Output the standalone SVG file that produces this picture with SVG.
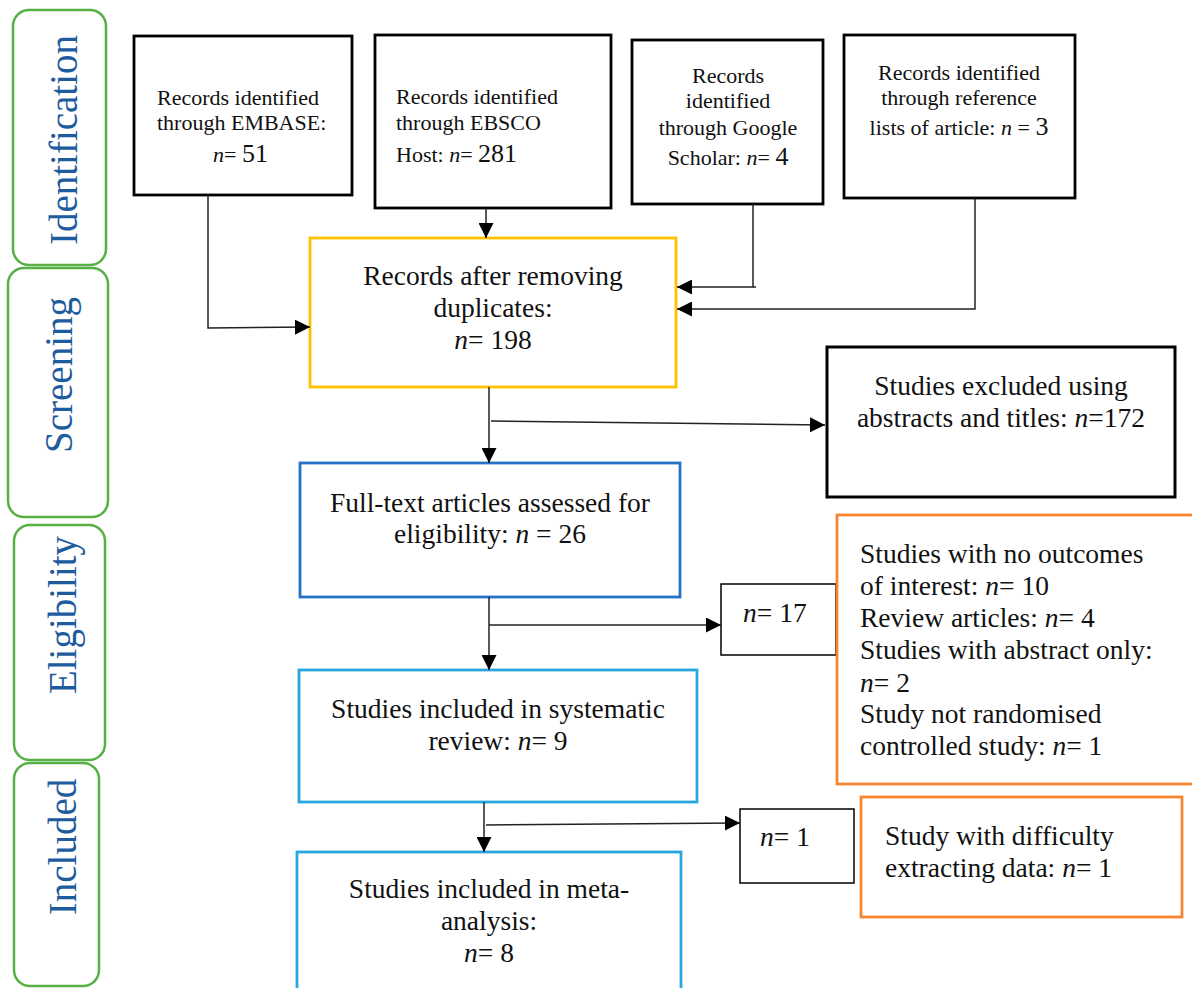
<svg xmlns="http://www.w3.org/2000/svg" width="1192" height="988" viewBox="0 0 1192 988">
<defs>
<marker id="ah" viewBox="0 0 10 10" refX="10" refY="5" markerWidth="15" markerHeight="15" markerUnits="userSpaceOnUse" orient="auto">
<path d="M0,0 L10,5 L0,10 z" fill="#000"/>
</marker>
<style>
.phase{fill:#fff;stroke:#56B045;stroke-width:2.5}
.ptxt{font-family:"Liberation Serif","Times New Roman",serif;font-size:39px;fill:#1F5C9E;text-anchor:middle}
.bk{fill:#fff;stroke:#000;stroke-width:2.8}
.thin{fill:#fff;stroke:#000;stroke-width:1.5}
.yel{fill:#fff;stroke:#FFC000;stroke-width:2.8}
.blu{fill:#fff;stroke:#2473C6;stroke-width:2.8}
.lbl{fill:#fff;stroke:#29A6DF;stroke-width:2.8}
.org{fill:#fff;stroke:#F7862E;stroke-width:2.8}
.s{font-family:"Liberation Serif","Times New Roman",serif;font-size:22px;fill:#111}
.m{font-family:"Liberation Serif","Times New Roman",serif;font-size:27.5px;fill:#111}
.c{text-anchor:middle}
.i{font-style:italic}
.big{font-size:26px}
.con{fill:none;stroke:#222;stroke-width:1.5}
</style>
</defs>

<g id="phase-identification">
<rect class="phase" x="13" y="10" width="93" height="255" rx="16"/>
<text class="ptxt" x="77" y="140" transform="rotate(-90 77 140)">Identification</text>
</g>
<g id="phase-screening">
<rect class="phase" x="8" y="268" width="100" height="249" rx="16"/>
<text class="ptxt" x="72" y="375" transform="rotate(-90 72 375)">Screening</text>
</g>
<g id="phase-eligibility">
<rect class="phase" x="14" y="525" width="91" height="235" rx="16"/>
<text class="ptxt" x="76" y="615" transform="rotate(-90 76 615)">Eligibility</text>
</g>
<g id="phase-included">
<rect class="phase" x="14" y="763" width="85" height="223" rx="16"/>
<text class="ptxt" x="76" y="847" transform="rotate(-90 76 847)">Included</text>
</g>

<g id="node-embase">
<rect class="bk" x="134" y="36" width="218" height="159"/>
<text class="s" x="157" y="105">Records identified</text>
<text class="s" x="157" y="130">through EMBASE:</text>
<text class="s" x="213" y="162"><tspan class="i">n</tspan>= <tspan class="big">51</tspan></text>
</g>
<g id="node-ebsco">
<rect class="bk" x="375" y="35" width="236" height="173"/>
<text class="s" x="396" y="104">Records identified</text>
<text class="s" x="396" y="130">through EBSCO</text>
<text class="s" x="396" y="162">Host: <tspan class="i">n</tspan>= <tspan class="big">281</tspan></text>
</g>
<g id="node-google">
<rect class="bk" x="632" y="40" width="191" height="164"/>
<text class="s c" x="728" y="83">Records</text>
<text class="s c" x="728" y="108">identified</text>
<text class="s c" x="728" y="135">through Google</text>
<text class="s c" x="728" y="165">Scholar: <tspan class="i">n</tspan>= <tspan class="big">4</tspan></text>
</g>
<g id="node-reference">
<rect class="bk" x="844" y="35" width="231" height="163"/>
<text class="s c" x="959" y="80">Records identified</text>
<text class="s c" x="959" y="105">through reference</text>
<text class="s c" x="959" y="135">lists of article: <tspan class="i">n</tspan> = <tspan class="big">3</tspan></text>
</g>

<g id="node-duplicates">
<rect class="yel" x="310" y="238" width="366" height="149"/>
<text class="m c" x="493" y="285">Records after removing</text>
<text class="m c" x="493" y="317">duplicates:</text>
<text class="m c" x="493" y="349"><tspan class="i">n</tspan>= 198</text>
</g>
<g id="node-excluded">
<rect class="bk" x="827" y="347" width="348" height="150" style="stroke-width:3"/>
<text class="m c" x="1001" y="395">Studies excluded using</text>
<text class="m c" x="1001" y="427">abstracts and titles: <tspan class="i">n</tspan>=172</text>
</g>
<g id="node-fulltext">
<rect class="blu" x="300" y="463" width="380" height="134"/>
<text class="m c" x="490" y="512">Full-text articles assessed for</text>
<text class="m c" x="490" y="543">eligibility: <tspan class="i">n</tspan> = 26</text>
</g>
<g id="node-n17">
<rect class="thin" x="721" y="584" width="115" height="71"/>
<text class="m" x="743" y="622"><tspan class="i">n</tspan>= 17</text>
</g>
<g id="node-reasons">
<rect class="org" x="837" y="515" width="360" height="269"/>
<text class="m" x="860" y="563">Studies with no outcomes</text>
<text class="m" x="860" y="595">of interest: <tspan class="i">n</tspan>= 10</text>
<text class="m" x="860" y="627">Review articles: <tspan class="i">n</tspan>= 4</text>
<text class="m" x="860" y="659">Studies with abstract only:</text>
<text class="m" x="860" y="692"><tspan class="i">n</tspan>= 2</text>
<text class="m" x="860" y="723">Study not randomised</text>
<text class="m" x="860" y="755">controlled study: <tspan class="i">n</tspan>= 1</text>
</g>
<g id="node-systematic">
<rect class="lbl" x="299" y="670" width="398" height="132"/>
<text class="m c" x="498" y="718">Studies included in systematic</text>
<text class="m c" x="498" y="750">review: <tspan class="i">n</tspan>= 9</text>
</g>
<g id="node-n1">
<rect class="thin" x="740" y="809" width="114" height="74"/>
<text class="m" x="760" y="846"><tspan class="i">n</tspan>= 1</text>
</g>
<g id="node-difficulty">
<rect class="org" x="861" y="797" width="321" height="120"/>
<text class="m" x="885" y="845">Study with difficulty</text>
<text class="m" x="885" y="877">extracting data: <tspan class="i">n</tspan>= 1</text>
</g>
<g id="node-meta">
<rect class="lbl" x="297" y="852" width="384" height="150"/>
<text class="m c" x="489" y="898">Studies included in meta-</text>
<text class="m c" x="489" y="930">analysis:</text>
<text class="m c" x="489" y="962"><tspan class="i">n</tspan>= 8</text>
</g>

<g id="connectors">
<polyline class="con" points="208,195 208,328 310,327" marker-end="url(#ah)"/>
<line class="con" x1="486" y1="208" x2="486" y2="238" marker-end="url(#ah)"/>
<polyline class="con" points="753,204 753,287 677,287" marker-end="url(#ah)"/>
<line class="con" x1="753" y1="287" x2="756" y2="287"/>
<polyline class="con" points="975,198 975,309 677,309" marker-end="url(#ah)"/>
<line class="con" x1="489" y1="387" x2="489" y2="463" marker-end="url(#ah)"/>
<line class="con" x1="491" y1="421" x2="825" y2="425" marker-end="url(#ah)"/>
<line class="con" x1="489" y1="597" x2="489" y2="670" marker-end="url(#ah)"/>
<line class="con" x1="489" y1="625" x2="721" y2="625" marker-end="url(#ah)"/>
<line class="con" x1="484" y1="802" x2="484" y2="852" marker-end="url(#ah)"/>
<line class="con" x1="486" y1="825" x2="740" y2="823" marker-end="url(#ah)"/>
</g>
</svg>
